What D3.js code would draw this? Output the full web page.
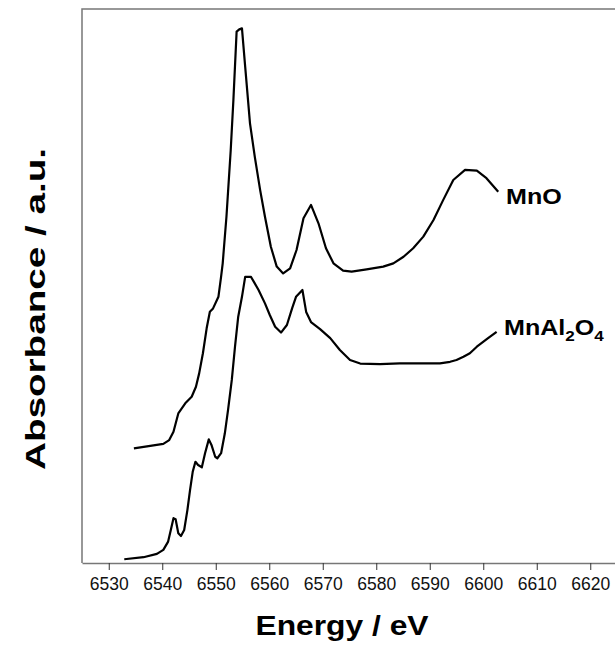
<!DOCTYPE html>
<html>
<head>
<meta charset="utf-8">
<script src="https://cdn.jsdelivr.net/npm/d3@7"></script>
<style>
  body { margin: 0; background: #fff; }
  svg { display: block; font-family: "Liberation Sans", Arial, sans-serif; }
</style>
</head>
<body>
<svg id="xanes" width="615" height="655"></svg>
<script>
// Mn K-edge XANES (a.u., curves already offset)
const mnoEnergy = [6534.7, 6540.2, 6541.3, 6542.1, 6543.0, 6544.3, 6545.5, 6546.3, 6546.9, 6547.6,
  6548.3, 6548.9, 6549.5, 6550.5, 6551.0, 6551.3, 6552.0, 6552.8, 6553.3, 6553.9,
  6554.4, 6554.9, 6555.5, 6556.4, 6557.3, 6558.3, 6559.2, 6560.3, 6561.4, 6562.6,
  6563.9, 6565.1, 6566.4, 6567.8, 6569.2, 6570.6, 6572.0, 6573.8, 6575.4, 6578.2,
  6581.3, 6583.2, 6585.1, 6586.9, 6588.8, 6590.7, 6592.5, 6594.4, 6596.6, 6598.8,
  6600.6, 6602.8];
const mnoAbs = [0.455, 0.473, 0.488, 0.521, 0.594, 0.634, 0.660, 0.700, 0.753, 0.833,
  0.932, 0.998, 1.011, 1.057, 1.137, 1.190, 1.375, 1.640, 1.839, 2.110,
  2.119, 2.123, 1.971, 1.746, 1.613, 1.481, 1.375, 1.256, 1.177, 1.150,
  1.170, 1.243, 1.369, 1.422, 1.349, 1.250, 1.190, 1.161, 1.157, 1.166,
  1.177, 1.190, 1.216, 1.250, 1.296, 1.362, 1.441, 1.521, 1.561, 1.558,
  1.528, 1.474];

const spinelEnergy = [6532.9, 6536.5, 6539.0, 6540.2, 6541.1, 6541.6, 6542.1, 6542.5, 6543.0, 6543.5,
  6544.1, 6544.7, 6545.2, 6545.7, 6546.2, 6546.7, 6547.4, 6548.0, 6548.7, 6549.2,
  6549.9, 6550.3, 6551.0, 6551.7, 6552.3, 6553.0, 6553.6, 6554.2, 6554.9, 6555.5,
  6556.6, 6558.0, 6559.2, 6560.1, 6561.1, 6562.2, 6563.3, 6564.3, 6565.0, 6566.2,
  6566.9, 6567.8, 6569.5, 6571.4, 6573.2, 6575.1, 6577.0, 6580.7, 6584.4, 6591.9,
  6593.8, 6595.0, 6596.3, 6597.5, 6598.8, 6600.9, 6602.5];
const spinelAbs = [0.015, 0.023, 0.036, 0.052, 0.085, 0.131, 0.178, 0.174, 0.118, 0.107,
  0.131, 0.210, 0.290, 0.363, 0.402, 0.389, 0.380, 0.436, 0.491, 0.469,
  0.422, 0.416, 0.436, 0.515, 0.608, 0.727, 0.859, 0.978, 1.057, 1.136,
  1.136, 1.084, 1.031, 0.985, 0.938, 0.915, 0.945, 1.013, 1.057, 1.084,
  0.997, 0.957, 0.929, 0.893, 0.846, 0.806, 0.792, 0.790, 0.793, 0.793,
  0.799, 0.806, 0.819, 0.833, 0.859, 0.893, 0.918];

const xTicks = [6530, 6540, 6550, 6560, 6570, 6580, 6590, 6600, 6610, 6620];

const svg = d3.select("#xanes");
const plotL = 82, plotT = 9, plotB = 563, plotR = 617;

const x = d3.scaleLinear().domain([6525, 6625]).range([plotL, plotR]);
const y = d3.scaleLinear().domain([0, 2.2]).range([plotB, plotT]);

// frame (right edge falls off the picture)
svg.append("path")
  .attr("d", `M${plotL},${plotB}V${plotT}H${plotR + 10}`)
  .attr("fill", "none")
  .attr("stroke", "#777")
  .attr("stroke-width", 1.5);

const xAxis = svg.append("g")
  .attr("transform", `translate(0,${plotB})`)
  .call(d3.axisBottom(x).tickValues(xTicks).tickFormat(d3.format("d"))
    .tickSize(7).tickSizeOuter(0).tickPadding(8));
xAxis.select(".domain").attr("stroke", "#777").attr("stroke-width", 1.5);
xAxis.selectAll(".tick line").attr("stroke", "#333");
xAxis.selectAll(".tick text")
  .attr("font-family", "Liberation Sans, Arial, sans-serif")
  .attr("font-size", 17.5)
  .attr("fill", "#111");

const line = d3.line().x(d => x(d[0])).y(d => y(d[1]));

const series = [
  { name: "MnO", pts: d3.zip(mnoEnergy, mnoAbs) },
  { name: "MnAl2O4", pts: d3.zip(spinelEnergy, spinelAbs) }
];

svg.selectAll("path.spec")
  .data(series)
  .join("path")
  .attr("class", "spec")
  .attr("d", d => line(d.pts))
  .attr("fill", "none")
  .attr("stroke", "#000")
  .attr("stroke-width", 2.2)
  .attr("stroke-linejoin", "round");

// curve labels
svg.append("text")
  .attr("transform", "translate(506,204) scale(1.14,1)")
  .attr("font-size", 22).attr("font-weight", "bold")
  .text("MnO");

const lab2 = svg.append("text")
  .attr("transform", "translate(504,335) scale(1.14,1)")
  .attr("font-size", 22).attr("font-weight", "bold");
lab2.append("tspan").text("MnAl");
lab2.append("tspan").attr("font-size", 15).attr("dy", 6).text("2");
lab2.append("tspan").attr("dy", -6).text("O");
lab2.append("tspan").attr("font-size", 15).attr("dy", 6).text("4");

// axis titles
svg.append("text")
  .attr("x", 342).attr("y", 635)
  .attr("text-anchor", "middle")
  .attr("font-size", 28).attr("font-weight", "bold")
  .attr("textLength", 173).attr("lengthAdjust", "spacingAndGlyphs")
  .text("Energy / eV");

svg.append("text")
  .attr("transform", "translate(45,309) rotate(-90)")
  .attr("text-anchor", "middle")
  .attr("font-size", 28).attr("font-weight", "bold")
  .attr("textLength", 322).attr("lengthAdjust", "spacingAndGlyphs")
  .text("Absorbance / a.u.");
</script>
</body>
</html>
